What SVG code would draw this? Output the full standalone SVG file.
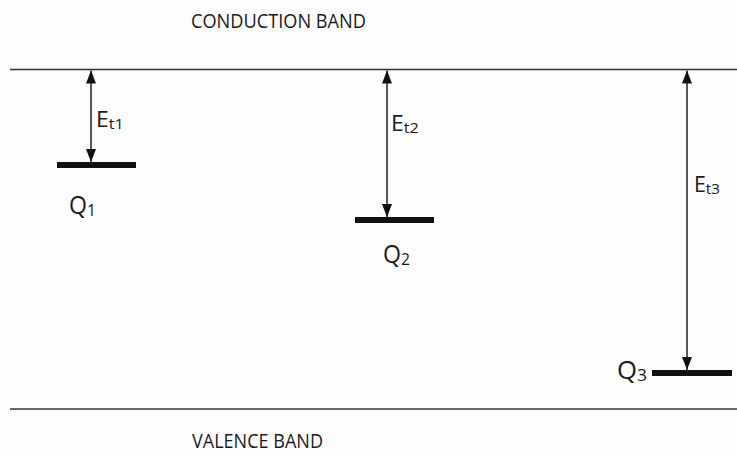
<svg xmlns="http://www.w3.org/2000/svg" width="737" height="456" viewBox="0 0 737 456">
<defs>
<marker id="ah" viewBox="0 0 10 10" refX="10" refY="5" markerWidth="13" markerHeight="10" markerUnits="userSpaceOnUse" orient="auto-start-reverse" preserveAspectRatio="none">
<path d="M0,0 L10,5 L0,10 z" fill="#111"/>
</marker>
</defs>
<style>
.band{stroke:#333;stroke-width:1.6;fill:none}
.lvl{fill:#111}
.arr{stroke:#111;stroke-width:1.4;fill:none;marker-start:url(#ah);marker-end:url(#ah)}
text{font-family:"Open Sans","Liberation Sans",sans-serif;fill:#1a1a1a}
.bl{font-size:19.5px}
.e{font-size:21px}
.q{font-size:25px}
.sub{font-size:15px}
.qs{font-size:17px}
</style>
<rect width="737" height="456" fill="#fdfdfd"/>
<g id="bands">
<line class="band" x1="10" y1="69.5" x2="737" y2="69.5"/>
<line class="band" x1="10" y1="409" x2="737" y2="409"/>
<text class="bl" x="191" y="28" textLength="175" lengthAdjust="spacingAndGlyphs">CONDUCTION BAND</text>
<text class="bl" x="192" y="448" textLength="131" lengthAdjust="spacingAndGlyphs">VALENCE BAND</text>
</g>
<g id="q1">
<rect class="lvl" x="57" y="162" width="79" height="6"/>
<text class="q" x="69" y="214" textLength="27" lengthAdjust="spacingAndGlyphs">Q<tspan class="qs" dy="2">1</tspan></text>
</g>
<g id="q2">
<rect class="lvl" x="355" y="217" width="79" height="6"/>
<text class="q" x="383" y="263" textLength="27" lengthAdjust="spacingAndGlyphs">Q<tspan class="qs" dy="2">2</tspan></text>
</g>
<g id="q3">
<rect class="lvl" x="652" y="370" width="80" height="6"/>
<text class="q" x="617" y="379" textLength="30" lengthAdjust="spacingAndGlyphs">Q<tspan class="qs" dy="2">3</tspan></text>
</g>
<g id="connectors">
<line class="arr" x1="91" y1="70.5" x2="91" y2="162"/>
<text class="e" x="96" y="127" textLength="28" lengthAdjust="spacingAndGlyphs">E<tspan class="sub" dy="2">t1</tspan></text>
<line class="arr" x1="387" y1="70.5" x2="387" y2="217"/>
<text class="e" x="391" y="131" textLength="28" lengthAdjust="spacingAndGlyphs">E<tspan class="sub" dy="2">t2</tspan></text>
<line class="arr" x1="687" y1="70.5" x2="687" y2="370"/>
<text class="e" x="694" y="192" textLength="26" lengthAdjust="spacingAndGlyphs">E<tspan class="sub" dy="2">t3</tspan></text>
</g>
</svg>
